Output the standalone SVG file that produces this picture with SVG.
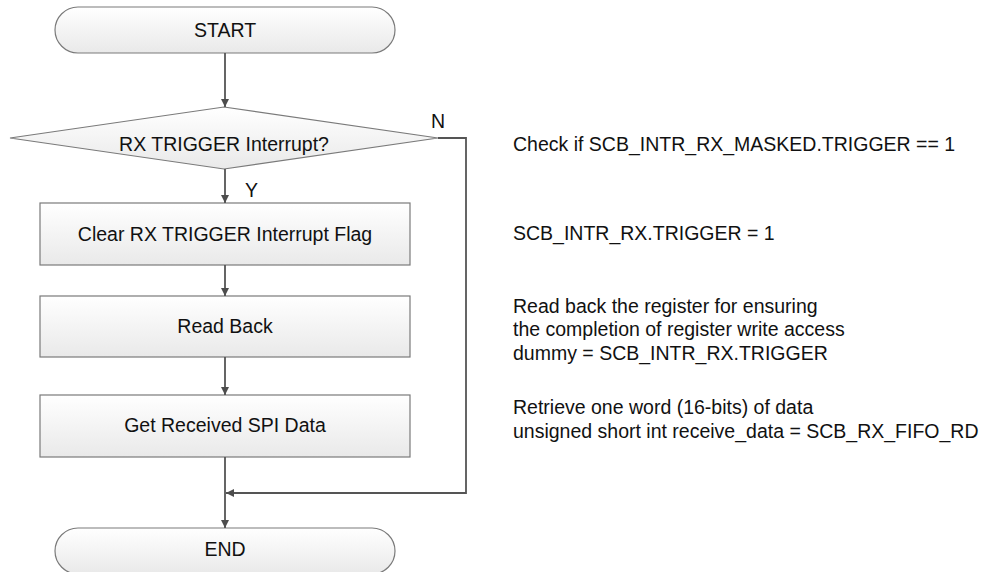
<svg xmlns="http://www.w3.org/2000/svg" width="982" height="572" viewBox="0 0 982 572">
<defs>
<linearGradient id="g" x1="0" y1="0" x2="0" y2="1">
<stop offset="0" stop-color="#ffffff"/>
<stop offset="1" stop-color="#e9e9e9"/>
</linearGradient>
<marker id="ah" viewBox="0 0 10 10" refX="10" refY="5" markerWidth="8" markerHeight="8" markerUnits="userSpaceOnUse" orient="auto">
<path d="M0,0 L10,5 L0,10 z" fill="#4d4d4d"/>
</marker>
</defs>
<style>
.sh{fill:url(#g);stroke:#7a7a7a;stroke-width:1.2}
.t{font-family:"Liberation Sans",Arial,sans-serif;font-size:19.5px;fill:#111}
.c{text-anchor:middle}
.cn{fill:none;stroke:#555;stroke-width:1.8}
</style>
<rect width="982" height="572" fill="#fff"/>
<g id="start"><rect class="sh" x="55" y="7" width="340" height="46" rx="23" ry="23"/><text class="t c" x="225" y="37">START</text></g>
<g id="decision"><polygon class="sh" points="224,107 438,138 224,169 10,138"/><text class="t c" x="224" y="151">RX TRIGGER Interrupt?</text></g>
<g id="clear"><rect class="sh" x="40" y="203" width="370" height="62"/><text class="t c" x="225" y="241">Clear RX TRIGGER Interrupt Flag</text></g>
<g id="readback"><rect class="sh" x="40" y="296" width="370" height="61"/><text class="t c" x="225" y="333">Read Back</text></g>
<g id="getdata"><rect class="sh" x="40" y="395" width="370" height="62"/><text class="t c" x="225" y="432">Get Received SPI Data</text></g>
<g id="end"><rect class="sh" x="55" y="528" width="340" height="46" rx="23" ry="23"/><text class="t c" x="225" y="556">END</text></g>
<g id="connectors">
<line class="cn" x1="225" y1="53" x2="225" y2="107" marker-end="url(#ah)"/>
<line class="cn" x1="225" y1="169" x2="225" y2="203" marker-end="url(#ah)"/>
<line class="cn" x1="225" y1="265" x2="225" y2="296" marker-end="url(#ah)"/>
<line class="cn" x1="225" y1="357" x2="225" y2="395" marker-end="url(#ah)"/>
<line class="cn" x1="225" y1="457" x2="225" y2="528" marker-end="url(#ah)"/>
<polyline class="cn" points="438,138 466,138 466,493 226,493" marker-end="url(#ah)"/>
<text class="t" x="245" y="197">Y</text>
<text class="t" x="431" y="128">N</text>
</g>
<g id="notes">
<text class="t" x="513" y="151">Check if SCB_INTR_RX_MASKED.TRIGGER == 1</text>
<text class="t" x="513" y="240">SCB_INTR_RX.TRIGGER = 1</text>
<text class="t" x="513" y="313">Read back the register for ensuring</text>
<text class="t" x="513" y="336">the completion of register write access</text>
<text class="t" x="513" y="360">dummy = SCB_INTR_RX.TRIGGER</text>
<text class="t" x="513" y="414">Retrieve one word (16-bits) of data</text>
<text class="t" x="513" y="438">unsigned short int receive_data = SCB_RX_FIFO_RD</text>
</g>
</svg>
